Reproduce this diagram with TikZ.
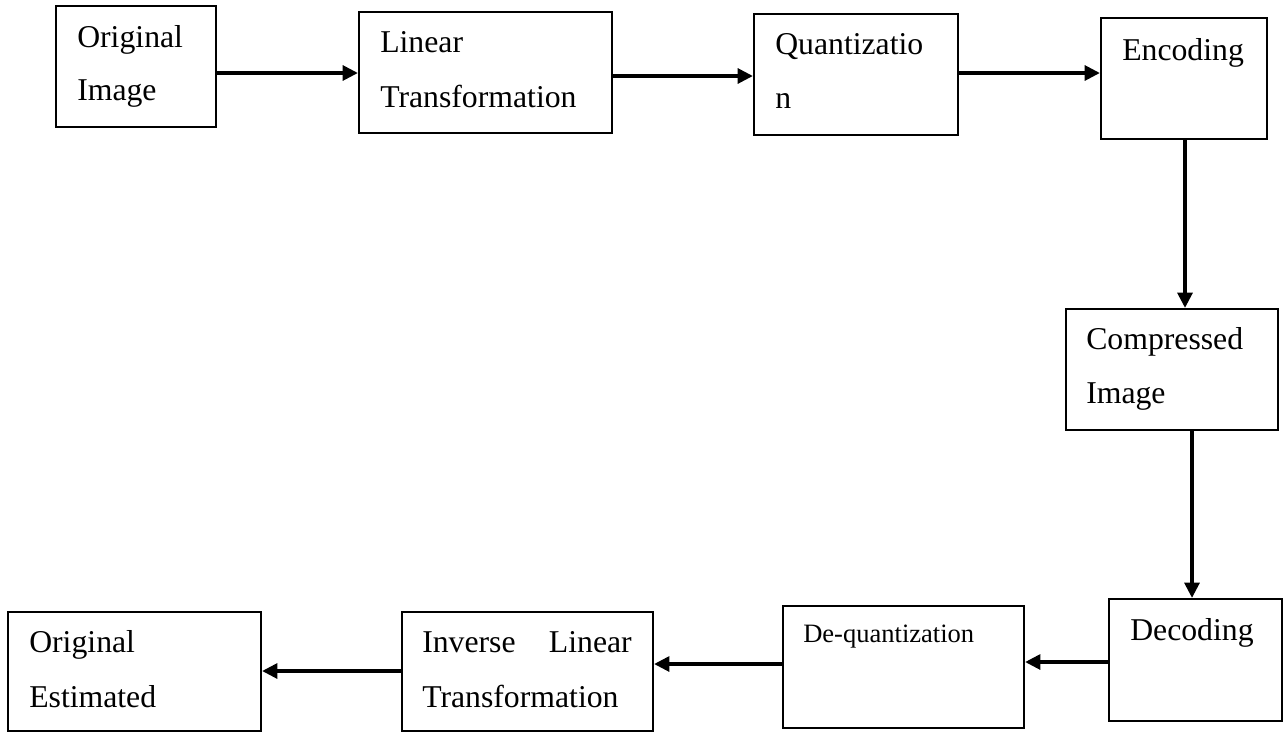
\documentclass[tikz,border=0pt]{standalone}
\usepackage{fontspec}
\setmainfont{Liberation Serif}
\usetikzlibrary{arrows.meta,fit}

\begin{document}
\begin{tikzpicture}[x=0.75pt,y=-0.75pt,
  stagebox/.style={draw=black, line width=1.5pt, inner sep=0pt, fill=none},
  lbl/.style={inner sep=0pt, anchor=base west, font=\fontsize{23.8}{28}\selectfont},
  lblsmall/.style={inner sep=0pt, anchor=base west, font=\fontsize{19.9}{24}\selectfont},
  flow/.style={line width=3pt, -{Triangle[length=11.5pt,width=11pt]}}
]
\useasboundingbox (0,0) rectangle (1284,733);

% ---- compression chain (top row) ----
\node[stagebox, fit={(56,6) (216,127)}] (orig) {};
\node[lbl] (origA) at (77,47) {Original};
\node[lbl] (origB) at (77,100) {Image};

\node[stagebox, fit={(359,12) (612,133)}] (lin) {};
\node[lbl] (linA) at (380,52) {Linear};
\node[lbl] (linB) at (380,107) {Transformation};

\node[stagebox, fit={(754,14) (958,135)}] (quant) {};
\node[lbl] (quantA) at (775,54) {Quantizatio};
\node[lbl] (quantB) at (775,108) {n};

\node[stagebox, fit={(1101,18) (1267,139)}] (enc) {};
\node[lbl] (encA) at (1122,60) {Encoding};

% ---- right column ----
\node[stagebox, fit={(1066,309) (1278,430)}] (comp) {};
\node[lbl] (compA) at (1086,349) {Compressed};
\node[lbl] (compB) at (1086,403) {Image};

\node[stagebox, fit={(1109,599) (1282,721)}] (dec) {};
\node[lbl] (decA) at (1130,640) {Decoding};

% ---- reconstruction chain (bottom row) ----
\node[stagebox, fit={(783,606) (1024,728)}] (deq) {};
\node[lblsmall] (deqA) at (803,642) {De-quantization};

\node[stagebox, fit={(402,612) (653,731)}] (inv) {};
\node[lbl] (invA) at (422,652) {Inverse};
\node[lbl, anchor=base east] (invB) at (632,652) {Linear};
\node[lbl] (invC) at (422,707) {Transformation};

\node[stagebox, fit={(8,612) (261,731)}] (est) {};
\node[lbl] (estA) at (29,652) {Original};
\node[lbl] (estB) at (29,707) {Estimated};

% ---- connector levels ----
\coordinate (rowA) at (0,73);
\coordinate (rowB) at (0,76);
\coordinate (rowC) at (0,73);
\coordinate (colA) at (1185,0);
\coordinate (colB) at (1192,0);
\coordinate (rowD) at (0,662);
\coordinate (rowE) at (0,664);
\coordinate (rowF) at (0,671);

% ---- connectors ----
\draw[flow] (orig.east |- rowA) -- (lin.west |- rowA);
\draw[flow] (lin.east |- rowB) -- (quant.west |- rowB);
\draw[flow] (quant.east |- rowC) -- (enc.west |- rowC);
\draw[flow] (enc.south -| colA) -- (comp.north -| colA);
\draw[flow] (comp.south -| colB) -- (dec.north -| colB);
\draw[flow] (dec.west |- rowD) -- (deq.east |- rowD);
\draw[flow] (deq.west |- rowE) -- (inv.east |- rowE);
\draw[flow] (inv.west |- rowF) -- (est.east |- rowF);
\end{tikzpicture}
\end{document}
